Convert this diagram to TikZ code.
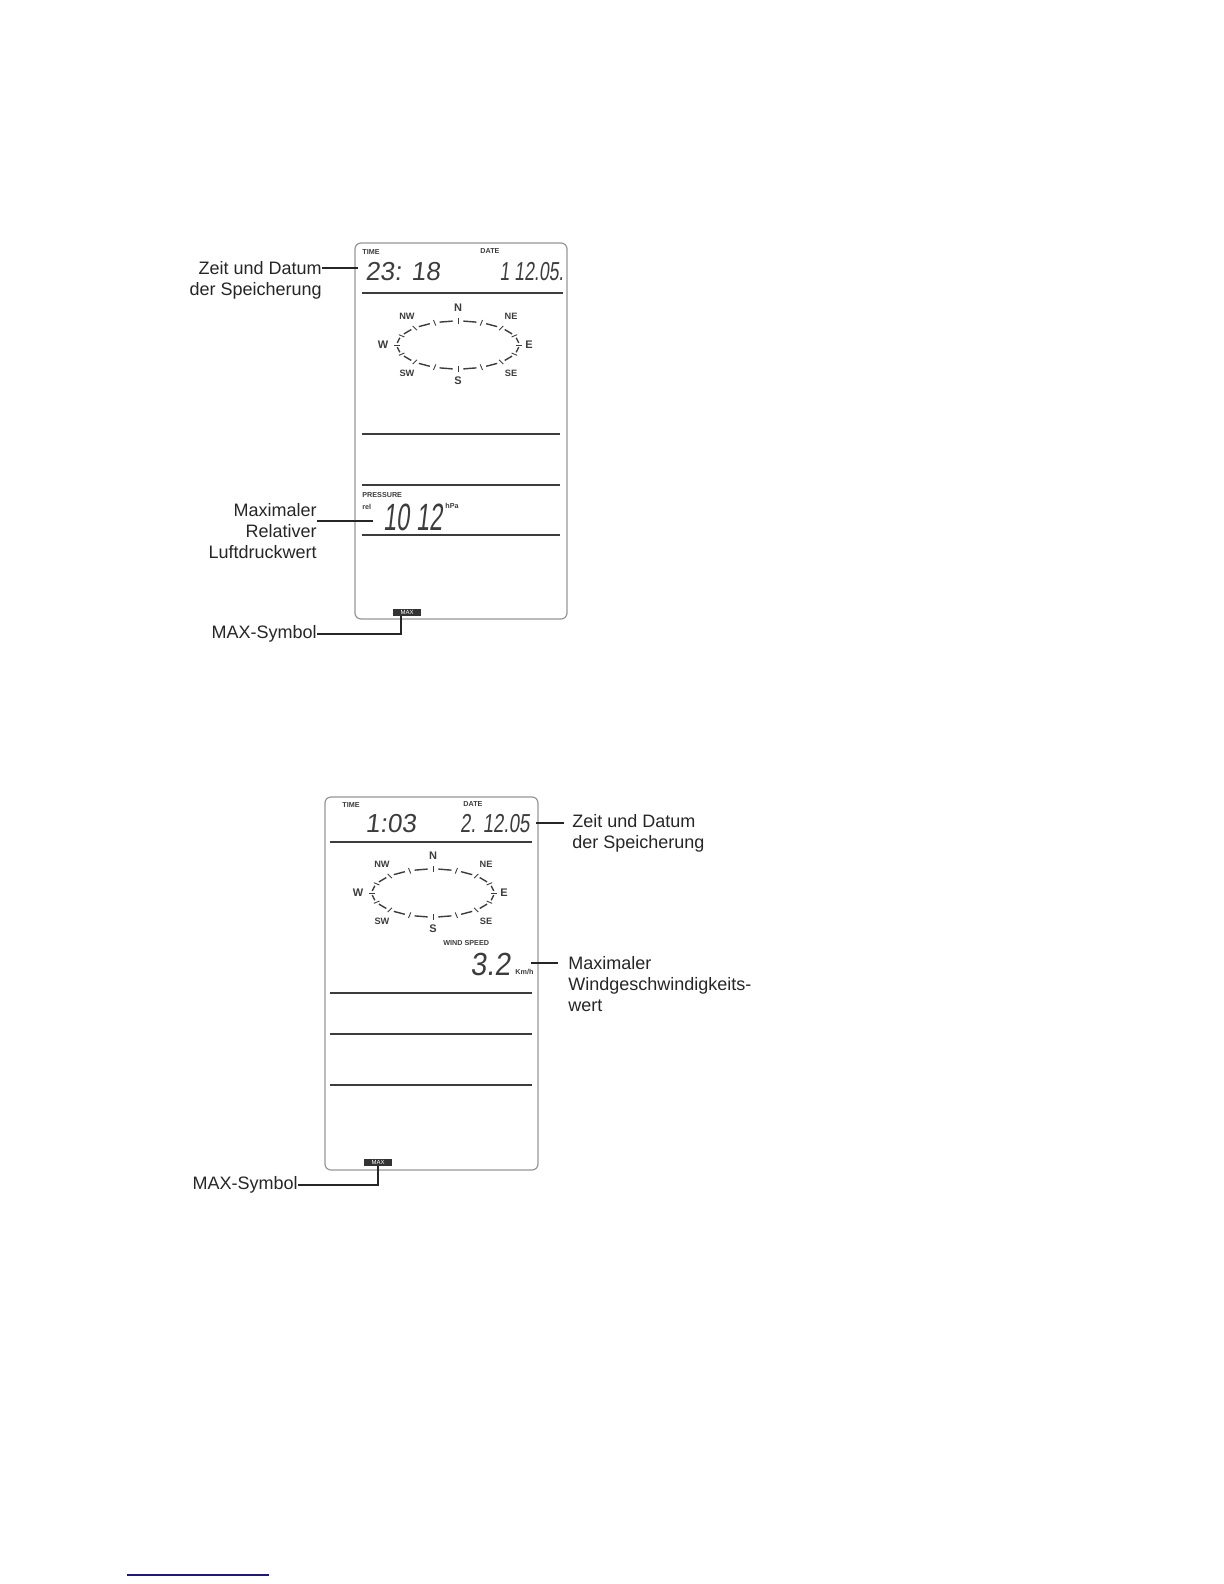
\documentclass[tikz,border=0pt]{standalone}
\usepackage{fontspec}
\setmainfont{Liberation Sans}
\newfontfamily\lcdfont[FakeSlant=0.12]{Liberation Sans}
\definecolor{lcdline}{RGB}{60,60,60}
\definecolor{lcdframe}{RGB}{150,150,150}
\definecolor{notenavy}{RGB}{25,25,120}
\usetikzlibrary{positioning}

\begin{document}
\begin{tikzpicture}[
      x=0.5pt, y=-0.5pt,
      lcdbox/.style  = {draw=lcdframe, line width=0.6pt, rounded corners=3pt},
      divider/.style = {draw=lcdline, line width=0.75pt},
      lead/.style    = {draw=black!85, line width=0.7pt},
      note/.style    = {font=\fontsize{9}{10.5}\selectfont, inner sep=0pt, text=black!85},
      tag/.style     = {font=\fontsize{3.6}{4}\selectfont\bfseries, inner sep=0pt, text=lcdline},
      digits/.style  = {font=\fontsize{13}{13}\lcdfont, inner sep=0pt, text=lcdline},
      narrow/.style  = {font=\fontsize{13}{13}\lcdfont\addfontfeatures{FakeStretch=#1}},
      dirlabel/.style= {font=\fontsize{4.6}{5}\selectfont\bfseries, inner sep=0pt, text=lcdline},
      maxsym/.style  = {fill=black!80, text=white!85, font=\fontsize{3}{3}\selectfont,
                        inner sep=0pt, minimum width=14pt, minimum height=3.5pt},
      compass/.pic   = {
        \foreach \a in {0,22.5,...,337.5} {
          \draw[lcdline, line width=0.7pt] ({61*cos(\a+5)},{24*sin(\a+5)}) -- ({61*cos(\a+17.5)},{24*sin(\a+17.5)});
          \draw[lcdline, line width=0.45pt] ({58*cos(\a)},{21*sin(\a)}) -- ({64*cos(\a)},{27*sin(\a)});
        }
        \node[dirlabel, font=\fontsize{5.5}{6}\selectfont\bfseries] (-n) at (0,-37) {N};
        \node[dirlabel, font=\fontsize{5.5}{6}\selectfont\bfseries] (-s) at (0,36)  {S};
        \node[dirlabel, font=\fontsize{5.5}{6}\selectfont\bfseries] (-w) at (-75,0) {W};
        \node[dirlabel, font=\fontsize{5.5}{6}\selectfont\bfseries] (-e) at (71,0)  {E};
        \node[dirlabel] (-nw) at (-51,-29) {NW};
        \node[dirlabel] (-ne) at (53,-29)  {NE};
        \node[dirlabel] (-sw) at (-51,28)  {SW};
        \node[dirlabel] (-se) at (53,28)   {SE};
      },
    ]
    \useasboundingbox (0,0) rectangle (1224,1584);

    % upper display: pressure memory
    \draw[lcdbox] (355,243) rectangle (567,619);
    \node[tag, anchor=west] (timeA) at (362,252) {TIME};
    \node[tag, anchor=west] (dateA) at (480,251) {DATE};
    \node[digits, anchor=west] (clockA) at (365,272) {23: 18};
    \node[digits, narrow=0.68, anchor=east] (dayA) at (564,272) {1 12.05.};
    \draw[divider] (362,293) -- (563,293);
    \pic (cmpA) at (458,345) {compass};
    \draw[divider] (362,434) -- (560,434);
    \draw[divider] (362,485) -- (560,485);
    \node[tag, anchor=west] (presA) at (362,495) {PRESSURE};
    \node[tag, anchor=west] (relA)  at (362,507) {rel};
    \node[digits, anchor=west, font=\fontsize{19}{19}\lcdfont\addfontfeatures{FakeStretch=0.62}]
                                    (hpaValA) at (383,517) {10 12};
    \node[tag, anchor=west] (hpaA)  at (445,506) {hPa};
    \draw[divider] (362,535) -- (560,535);
    \node[maxsym] (maxsymA) at (407,612) {MAX};

    \node[note, anchor=north east, align=right] (zeitA) at (322,261) {Zeit und Datum\\der Speicherung};
    \node[note, anchor=north east, align=right] (luftA) at (317,503) {Maximaler\\Relativer\\Luftdruckwert};
    \node[note, anchor=east] (maxA) at (317,634) {MAX-Symbol};
    \coordinate (zeitAend) at (358,268);
    \coordinate (luftAend) at (373,521);
    \coordinate (maxAend)  at ([xshift=-3pt]maxsymA.south);

    \draw[lead] (zeitA.east |- zeitAend) -- (zeitAend);
    \draw[lead] (luftA.east |- luftAend) -- (luftAend);
    \draw[lead] (maxA.east) -- (maxA.east -| maxAend) -- (maxAend);

    % lower display: wind speed memory
    \draw[lcdbox] (325,797) rectangle (538,1170);
    \node[tag, anchor=west] (timeB) at (342,805) {TIME};
    \node[tag, anchor=west] (dateB) at (463,804) {DATE};
    \node[digits, anchor=west] (clockB) at (365,824) {1:03};
    \node[digits, narrow=0.72, anchor=east] (dayB) at (530,824) {2. 12.05};
    \draw[divider] (330,842) -- (532,842);
    \pic (cmpB) at (433,893) {compass};
    \node[tag, anchor=west] (windB) at (443,943) {WIND SPEED};
    \node[digits, anchor=west, font=\fontsize{16}{16}\lcdfont\addfontfeatures{FakeStretch=0.9}]
                                    (windValB) at (470,964) {3.2};
    \node[tag, anchor=west] (kmhB)  at (515,972) {Km/h};
    \draw[divider] (330,993) -- (532,993);
    \draw[divider] (330,1034) -- (532,1034);
    \draw[divider] (330,1085) -- (532,1085);
    \node[maxsym] (maxsymB) at (378,1162) {MAX};

    \node[note, anchor=north west, align=left] (zeitB) at (572,814) {Zeit und Datum\\der Speicherung};
    \node[note, anchor=north west, align=left] (speedB) at (568,956) {Maximaler\\Windgeschwindigkeits-\\wert};
    \node[note, anchor=east] (maxB) at (298,1185) {MAX-Symbol};
    \coordinate (zeitBend)  at (536,823);
    \coordinate (speedBend) at (531,963);

    \draw[lead] (zeitBend) -- ([xshift=-4pt]zeitB.west |- zeitBend);
    \draw[lead] (speedBend) -- ([xshift=-5pt]speedB.west |- speedBend);
    \draw[lead] (maxB.east) -- (maxB.east -| maxsymB.south) -- (maxsymB.south);

    % footnote rule
    \coordinate (ruleL) at (127,1575);
    \coordinate (ruleR) at (269,1575);
    \draw[notenavy, line width=0.7pt] (ruleL) -- (ruleR);
  \end{tikzpicture}
\end{document}
